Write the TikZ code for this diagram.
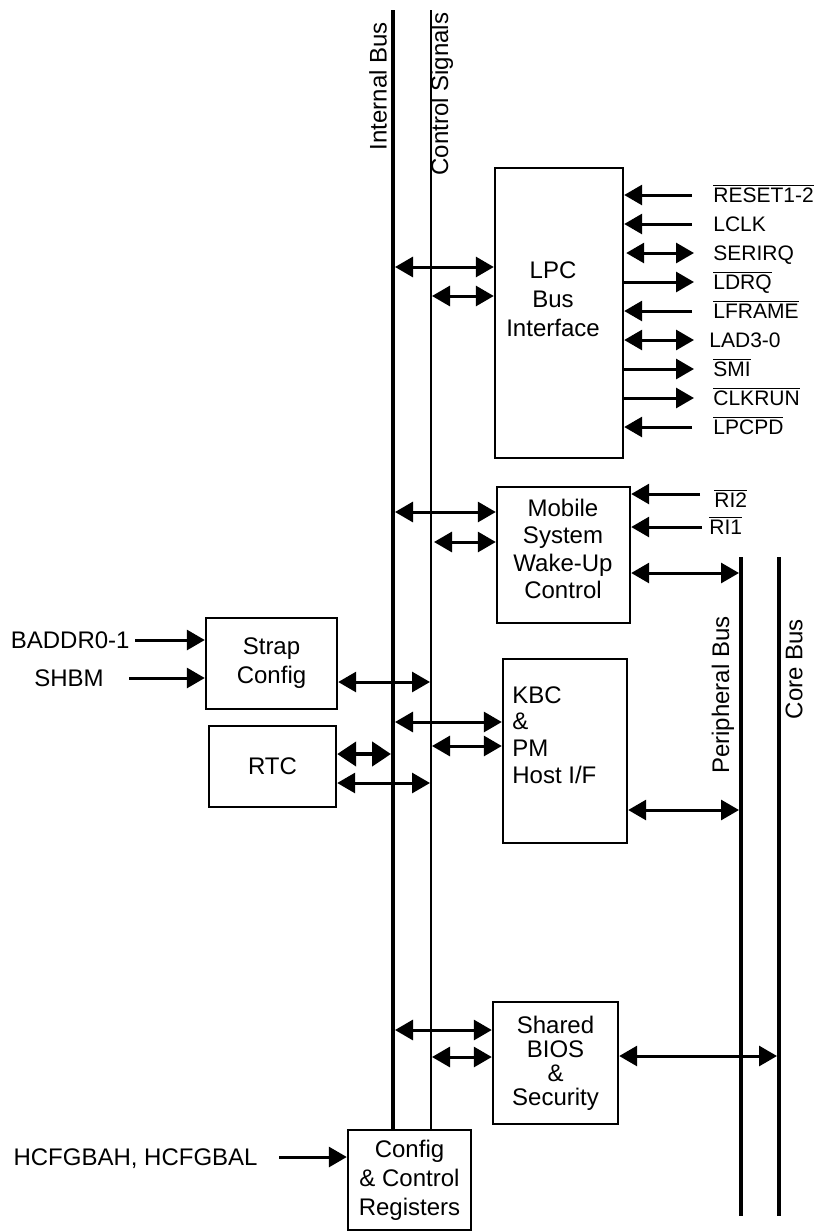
\documentclass[tikz,border=0pt]{standalone}
\usepackage{fontspec}
\setmainfont{Liberation Sans}
\usetikzlibrary{positioning,arrows.meta}

\newcommand{\ovl}[1]{$\overline{\mbox{#1}}$}
\newcommand{\boxfont}{\fontsize{12}{14.5}\selectfont}
\newcommand{\sigfont}{\fontsize{10.5}{12}\selectfont}

\begin{document}
\begin{tikzpicture}[
    x=0.5pt, y=-0.5pt,
    blk/.style={draw, line width=1.2pt, inner sep=0pt, align=center, font=\boxfont},
    txt/.style={inner sep=0pt, font=\boxfont},
    bus/.style={line width=2.2pt},
    ctl/.style={line width=1.2pt},
    buslbl/.style={rotate=90, inner sep=0pt, font=\fontsize{12}{14}\selectfont},
    % signal names on the right: west anchor sits at the middle of the capitals
    sig/.style={inner sep=0pt, text height=7.5pt, text depth=0pt, font=\sigfont},
    pin/.style={inner sep=0pt, text height=8.6pt, text depth=0pt, font=\fontsize{12}{14}\selectfont},
    uni/.style={-{Triangle[length=9pt,width=10pt]}, line width=1.5pt},
    map/.style={{Triangle[length=9pt,width=10pt]}-{Triangle[length=9pt,width=10pt]}, line width=1.5pt},
    fat/.style={{Triangle[length=9.5pt,width=12pt]}-{Triangle[length=9.5pt,width=12pt]}, line width=2.2pt}
]
    \useasboundingbox (0,0) rectangle (817,1232);

    % Blocks
    \node[blk, minimum width=64pt, minimum height=145pt] (lpc) at (559,313) {};
    \node[txt, align=center] (lpct) at (553,299) {LPC\\Bus\\Interface};

    \node[blk, minimum width=66.5pt, minimum height=68pt] (mob) at (563.5,555) {};
    \node[txt, align=center, font=\fontsize{12}{13.75}\selectfont] (mobt) at (563,549) {Mobile\\System\\Wake-Up\\Control};

    \node[blk, minimum width=65.5pt, minimum height=45.5pt] (strap) at (271.5,663.5) {Strap\\Config};
    \node[blk, minimum width=63.5pt, minimum height=40.5pt] (rtc) at (272.5,766.5) {RTC};

    \node[blk, minimum width=62pt, minimum height=92pt] (kbc) at (565,751) {};
    \node[txt, align=left, anchor=west, font=\fontsize{12}{13.3}\selectfont] (kbct) at (512,735) {KBC\\\&\\PM\\Host I/F};

    \node[blk, minimum width=62.5pt, minimum height=61pt, font=\fontsize{12}{12}\selectfont] (bios) at (555.5,1063) {Shared\\BIOS\\\&\\Security};
    \node[blk, minimum width=61.5pt, minimum height=50pt] (cfg) at (409.5,1180) {Config\\\& Control\\Registers};

    % Buses
    \coordinate (ibt) at (393,10);
    \coordinate (cst) at (431,10);
    \coordinate (pbt) at (741,557);
    \coordinate (pbb) at (741,1216);
    \coordinate (cbt) at (779,557);
    \coordinate (cbb) at (779,1216);

    \draw[bus] (ibt) -- (ibt |- cfg.north);
    \draw[ctl] (cst) -- (cst |- cfg.north);
    \draw[bus] (pbt) -- (pbb);
    \draw[bus] (cbt) -- (cbb);

    \node[buslbl] (ibl) at (378,86) {Internal Bus};
    \node[buslbl] (csl) at (442,94) {Control Signals};
    \node[buslbl] (pbl) at (723,695) {Peripheral Bus};
    \node[buslbl] (cbl) at (794,669) {Core Bus};

    % LPC
    \coordinate (ib-lpc) at (395,267);
    \coordinate (cs-lpc) at (432,296);
    \draw[map] (ib-lpc) -- (lpc.west |- ib-lpc);
    \draw[map] (cs-lpc) -- (lpc.west |- cs-lpc);

    \coordinate (s1) at (692,195);
    \coordinate (s2) at (692,224);
    \coordinate (s3) at (694,253);
    \coordinate (s4) at (694,282);
    \coordinate (s5) at (692,311);
    \coordinate (s6) at (694,340);
    \coordinate (s7) at (694,369);
    \coordinate (s8) at (694,398);
    \coordinate (s9) at (692,427);

    \node[sig, right=10.5pt of s1] (reset) {\ovl{RESET1-2}};
    \node[sig, right=10.5pt of s2] (lclk) {LCLK};
    \node[sig, right=9.5pt of s3] (serirq) {SERIRQ};
    \node[sig, right=9.5pt of s4] (ldrq) {\ovl{LDRQ}};
    \node[sig, right=10.5pt of s5] (lframe) {\ovl{LFRAME}};
    \node[sig, right=7.5pt of s6] (lad) {LAD3-0};
    \node[sig, right=9.5pt of s7] (smi) {\ovl{SMI}};
    \node[sig, right=9.5pt of s8] (clkrun) {\ovl{CLKRUN}};
    \node[sig, right=10.5pt of s9] (lpcpd) {\ovl{LPCPD}};

    \draw[uni] (s1) -- (lpc.east |- s1);
    \draw[uni] (s2) -- (lpc.east |- s2);
    \draw[map] (s3) -- ([xshift=1pt]lpc.east |- s3);
    \draw[uni] (lpc.east |- s4) -- (s4);
    \draw[uni] (s5) -- (lpc.east |- s5);
    \draw[map] (lpc.east |- s6) -- (s6);
    \draw[uni] (lpc.east |- s7) -- (s7);
    \draw[uni] (lpc.east |- s8) -- (s8);
    \draw[uni] (s9) -- (lpc.east |- s9);

    % Mobile wake-up
    \coordinate (ib-mob) at (395,512);
    \coordinate (cs-mob) at (434,542);
    \coordinate (pb-mob) at (739,573);
    \draw[map] (ib-mob) -- (mob.west |- ib-mob);
    \draw[map] (cs-mob) -- (mob.west |- cs-mob);
    \draw[map] (mob.east |- pb-mob) -- (pb-mob);

    \coordinate (r2) at (700,494);
    \coordinate (r1) at (702,527);
    \node[sig, right=7pt of r2, yshift=-3pt] (ri2) {\ovl{RI2}};
    \node[sig, right=3.5pt of r1] (ri1) {\ovl{RI1}};
    \draw[uni] (r2) -- (mob.east |- r2);
    \draw[uni] (r1) -- (mob.east |- r1);

    % Strap
    \coordinate (b0) at (135,640);
    \coordinate (sh) at (129,678);
    \node[pin, left=2.5pt of b0] (baddr) {BADDR0-1};
    \node[pin, left=12.5pt of sh] (shbm) {SHBM};
    \draw[uni] (b0) -- (strap.west |- b0);
    \draw[uni] (sh) -- (strap.west |- sh);

    \coordinate (cs-strap) at (430,682);
    \draw[map] (strap.east |- cs-strap) -- (cs-strap);

    % RTC
    \coordinate (ib-rtc) at (391,754);
    \coordinate (cs-rtc) at (430,783);
    \draw[fat] (rtc.east |- ib-rtc) -- (ib-rtc);
    \draw[map] (rtc.east |- cs-rtc) -- (cs-rtc);

    % KBC
    \coordinate (ib-kbc) at (395,722);
    \coordinate (cs-kbc) at (432,746);
    \coordinate (pb-kbc) at (739,810);
    \draw[map] (ib-kbc) -- (kbc.west |- ib-kbc);
    \draw[map] (cs-kbc) -- (kbc.west |- cs-kbc);
    \draw[map] (kbc.east |- pb-kbc) -- (pb-kbc);

    % BIOS
    \coordinate (ib-bios) at (395,1030);
    \coordinate (cs-bios) at (432,1057);
    \coordinate (cb-bios) at (777,1056);
    \draw[map] (ib-bios) -- (bios.west |- ib-bios);
    \draw[map] (cs-bios) -- (bios.west |- cs-bios);
    \draw[map] (bios.east |- cb-bios) -- (cb-bios);

    % Config
    \coordinate (hc) at (279,1157);
    \node[pin, left=10.5pt of hc] (hcfg) {HCFGBAH, HCFGBAL};
    \draw[uni] (hc) -- (cfg.west |- hc);
\end{tikzpicture}
\end{document}
